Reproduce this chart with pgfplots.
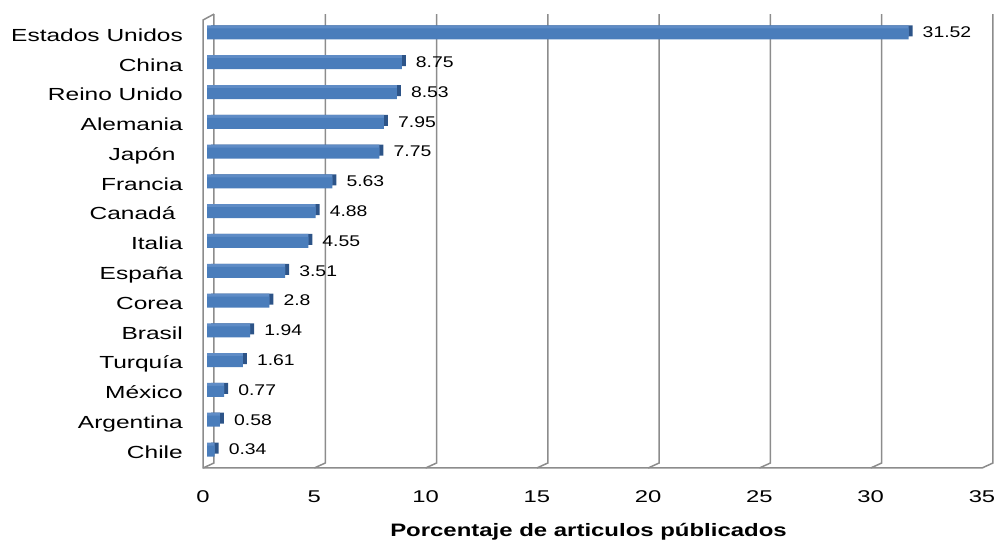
\documentclass[border=0pt]{standalone}
\usepackage{pgfplots}
\pgfplotsset{compat=1.18}
\usepackage{pgfplotstable}
\usepackage{graphicx}
\usepackage{fontspec}
\setmainfont{Liberation Sans}
\newcommand\sx[1]{\scalebox{1.4}[1]{#1}}
\newcommand\st[1]{\scalebox{1.33}[1]{#1}}
\newcommand\sv[1]{\scalebox{1.25}[1]{#1}}
\definecolor{barfront}{HTML}{4A7DBB}
\definecolor{bartop}{HTML}{5F8CC6}
\definecolor{barside}{HTML}{2D5488}
\definecolor{gridc}{HTML}{8C8C8C}

% k = fila (0 = Chile, abajo)
\pgfplotstableread{
k val
0 0.34
1 0.58
2 0.77
3 1.61
4 1.94
5 2.8
6 3.51
7 4.55
8 4.88
9 5.63
10 7.75
11 7.95
12 8.53
13 8.75
14 31.52
}\datos

\begin{document}
\begin{tikzpicture}
\begin{axis}[
    x=22.257pt, y=29.79pt,
    xmin=0, xmax=35,
    ymin=-0.537, ymax=14.50,
    clip=false,
    axis line style={draw=none},
    major tick length=0pt,
    xtick={0,5,...,35},
    xticklabels={\sx{0},\sx{5},\sx{10},\sx{15},\sx{20},\sx{25},\sx{30},\sx{35}},
    ytick={0,...,14},
    yticklabels={\sx{Chile},\sx{Argentina},\sx{México},\sx{Turquía},\sx{Brasil},
      \sx{Corea},\sx{España},\sx{Italia},\sx{Canadá\hspace{0.3em}},\sx{Francia},
      \sx{Japón\hspace{0.3em}},\sx{Alemania},\sx{Reino Unido},\sx{China},\sx{Estados Unidos}},
    xticklabel style={font=\fontsize{17}{20}\selectfont, anchor=center, inner sep=0pt, yshift=-29pt},
    yticklabel style={font=\fontsize{17.5}{20}\selectfont, anchor=base east, inner sep=0pt, xshift=-20pt, yshift=-6.3pt},
    xlabel={\st{Porcentaje de articulos públicados}},
    xlabel style={font=\fontsize{18}{20}\selectfont\bfseries, at={(axis description cs:0.5,0)},
      anchor=base, inner sep=0pt, yshift=-69pt, xshift=-4pt},
    /pgf/number format/assume math mode=true,
]

% paredes y lineas de division (efecto 3D)
\pgfplotsinvokeforeach{0,5,10,15,20,25,30,35}{
  \draw[gridc, line width=1.5pt] (axis cs:#1+0.494,14.70) -- (axis cs:#1+0.494,-0.369) -- (axis cs:#1,-0.537);
}
\draw[gridc, line width=1.5pt] (axis cs:35,-0.537) -- (axis cs:0,-0.537) -- (axis cs:0,14.50) -- (axis cs:0.494,14.70);

% cara lateral
\addplot[xbar, bar width=11pt, bar shift=0pt, fill=barside, draw=none, xshift=8pt, yshift=4pt]
  table[x=val, y=k] {\datos};
% cara superior
\addplot[xbar, bar width=11pt, bar shift=0pt, fill=bartop, draw=none, xshift=4pt, yshift=4pt]
  table[x=val, y=k] {\datos};
% cara frontal
\addplot[xbar, bar width=11pt, bar shift=0pt, fill=barfront, draw=none, xshift=4pt, yshift=1pt,
    point meta=x,
    nodes near coords={\sv{\pgfmathprintnumber{\pgfplotspointmeta}}},
    every node near coord/.style={font=\fontsize{15.5}{18}\selectfont, anchor=west, inner sep=0pt, xshift=14pt, yshift=1.5pt, text=black}]
  table[x=val, y=k] {\datos};

\path (axis cs:-9.121,15.173) rectangle (axis cs:35.629,-3.088);
\end{axis}
\end{tikzpicture}
\end{document}
